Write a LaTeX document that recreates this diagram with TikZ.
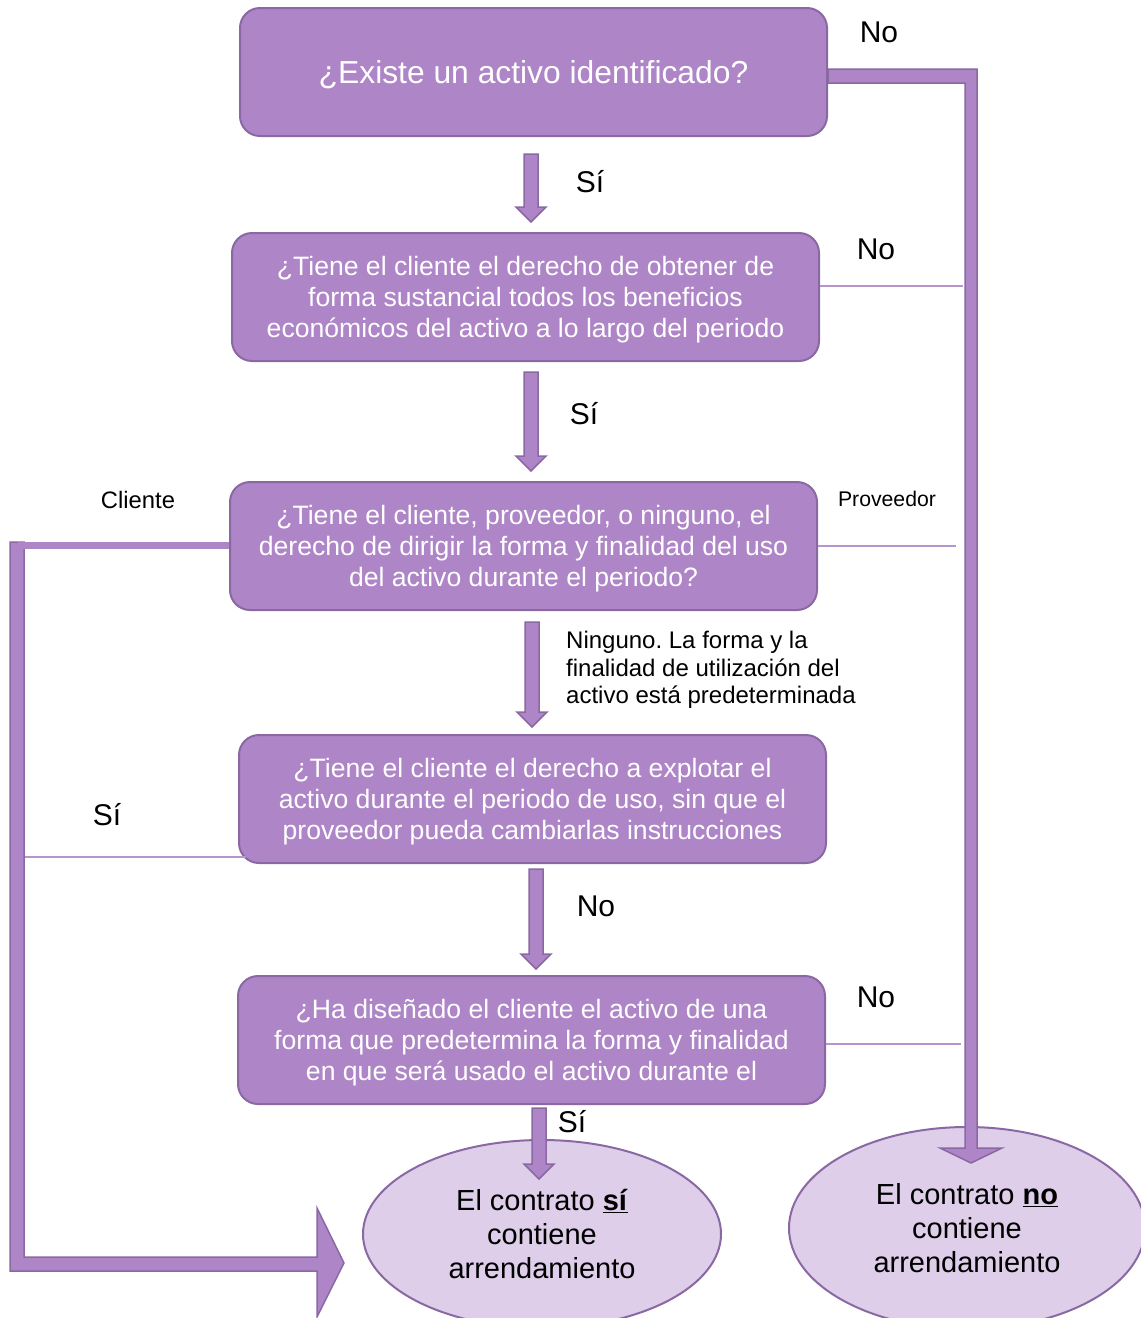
\documentclass[tikz,border=0pt]{standalone}
\usepackage{fontspec}
\setmainfont{Liberation Sans}
\usetikzlibrary{calc,shapes.geometric}
\frenchspacing
\definecolor{boxfill}{RGB}{174,133,198}
\definecolor{boxline}{RGB}{138,104,163}
\definecolor{ellfill}{RGB}{222,206,233}
\definecolor{thinpurple}{RGB}{182,148,206}
% vertical block arrow: start point, tip point (only its y is used)
\newcommand{\blockdown}[2]{%
  \draw[blockarr] let \p1=#1, \p2=#2 in
    (\x1-7pt,\y1) -- (\x1+7pt,\y1) -- (\x1+7pt,\y2+15pt) -- (\x1+15pt,\y2+15pt)
    -- (\x1,\y2) -- (\x1-15pt,\y2+15pt) -- (\x1-7pt,\y2+15pt) -- cycle;}
\begin{document}
\begin{tikzpicture}[x=1pt,y=-1pt,
  question/.style={draw=boxline,line width=2pt,fill=boxfill,rounded corners=20pt,
    minimum width=587pt,minimum height=128pt,inner sep=0pt,text=white,align=center,
    text depth=0pt,font=\fontsize{26.6}{31}\selectfont},
  answer/.style={ellipse,draw=boxline,line width=2pt,fill=ellfill,inner sep=0pt,
    align=center,font=\fontsize{29}{34}\selectfont},
  tag/.style={font=\fontsize{30}{34}\selectfont},
  smalltag/.style={font=\fontsize{24}{27.5}\selectfont,align=left},
  blockarr/.style={draw=boxline,line width=1.5pt,fill=boxfill,line join=miter},
  thinline/.style={draw=thinpurple,line width=1.2pt}]
\useasboundingbox (0,0) rectangle (1141,1318);

% questions
\node[question,font=\fontsize{31.8}{36}\selectfont] (q1) at (533.5,72) {¿Existe un activo identificado?};
\node[question] (q2) at (525.5,297) {¿Tiene el cliente el derecho de obtener de\\forma sustancial todos los beneficios\\económicos del activo a lo largo del periodo};
\node[question] (q3) at (523.5,546) {¿Tiene el cliente, proveedor, o ninguno, el\\derecho de dirigir la forma y finalidad del uso\\del activo durante el periodo?};
\node[question] (q4) at (532.5,799) {¿Tiene el cliente el derecho a explotar el\\activo durante el periodo de uso, sin que el\\proveedor pueda cambiarlas instrucciones};
\node[question] (q5) at (531.5,1040) {¿Ha diseñado el cliente el activo de una\\forma que predetermina la forma y finalidad\\en que será usado el activo durante el};

% outcomes
\node[answer,minimum width=358pt,minimum height=188pt] (si) at (542,1234) {El contrato \underline{\textbf{sí}}\\contiene\\arrendamiento};
\node[answer,minimum width=356pt,minimum height=202pt] (no) at (967,1228) {El contrato \underline{\textbf{no}}\\contiene\\arrendamiento};

% thin links into the channels
\draw[thinline] ($(q2.east)+(0,-11)$) -- ++(143,0);
\draw[thinline] (q3.east) -- ++(138,0);
\draw[thinline] ($(q5.east)+(0,4)$) -- ++(135,0);
\draw[thinline] ($(q4.south west)+(8,-7)$) -- ++(-223,0);

% right channel to "no"
\draw[blockarr] let \p1=(q1.east), \p2=(no.north) in
  (\x1,\y1+3pt) -- (\x2+10pt,\y1+3pt) -- (\x2+10pt,\y2-22pt) -- (\x2+35pt,\y2-22pt)
  -- (\x2+4pt,\y2-37pt) -- (\x2-27pt,\y2-22pt) -- (\x2-2pt,\y2-22pt)
  -- (\x2-2pt,\y1-11pt) -- (\x1,\y1-11pt) -- cycle;

% left channel to "si"
\draw[blockarr] let \p1=(q3.west), \p2=(si.west) in
  (10pt,\y1+4pt) -- (24pt,\y1+4pt) -- (24pt,\y2-23pt) -- (\x2-45pt,\y2-23pt)
  -- (\x2-45pt,\y2+26pt) -- (\x2-18pt,\y2-29pt) -- (\x2-45pt,\y2-83pt)
  -- (\x2-45pt,\y2-37pt) -- (10pt,\y2-37pt) -- cycle;
\fill[boxfill] let \p1=(q3.west) in (18pt,\y1+4pt) rectangle (\x1,\y1-3pt);

% arrows down
\blockdown{($(q1.south)+(-2.5,17)$)}{($(q2.north)+(0,-10)$)}
\blockdown{($(q2.south)+(5.5,10)$)}{($(q3.north)+(0,-10)$)}
\blockdown{($(q3.south)+(8.5,11)$)}{($(q4.north)+(0,-7)$)}
\blockdown{($(q4.south)+(3.5,5)$)}{($(q5.north)+(0,-6)$)}
\blockdown{($(q5.south)+(7.5,3)$)}{($(si.north)+(0,40)$)}

% labels
\node[tag] (n1) at (879,32) {No};
\node[tag] (s1) at (590,182) {Sí};
\node[tag] (n2) at (876,249) {No};
\node[tag] (s2) at (584,414) {Sí};
\node[smalltag,font=\fontsize{23.8}{27}\selectfont] (cli) at (138,500) {Cliente};
\node[smalltag,font=\fontsize{21.2}{25}\selectfont] (pro) at (887,499) {Proveedor};
\node[smalltag,anchor=west,inner sep=0pt] (nin) at (566,670) {Ninguno. La forma y la\\finalidad de utilización del\\activo está predeterminada};
\node[tag] (s3) at (107,815) {Sí};
\node[tag] (n3) at (596,906) {No};
\node[tag] (n4) at (876,997) {No};
\node[tag] (s4) at (572,1122) {Sí};
\end{tikzpicture}
\end{document}
